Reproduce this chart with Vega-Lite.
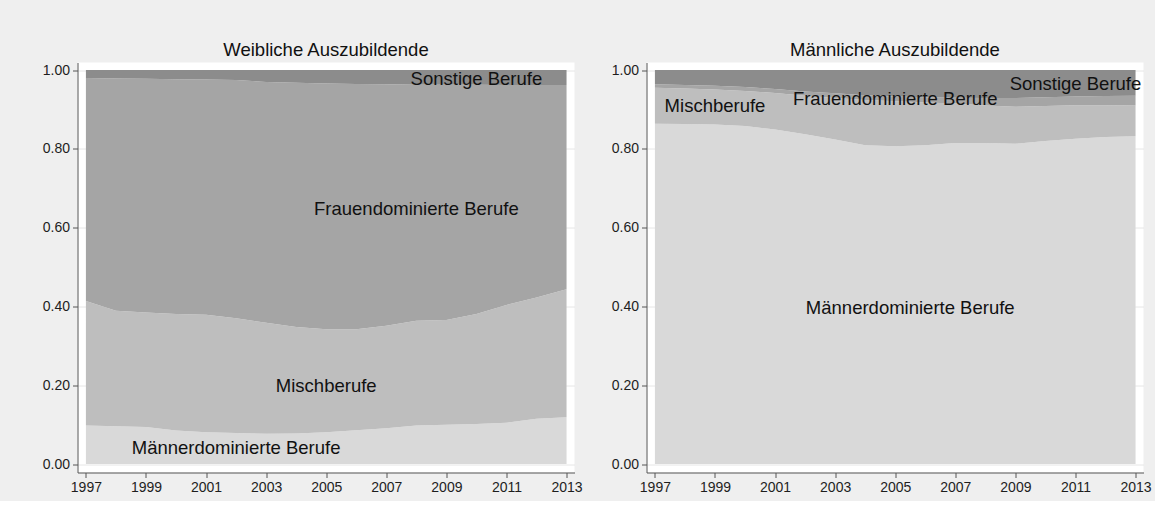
{
  "$schema": "https://vega.github.io/schema/vega-lite/v6.json",
  "background": "#efefef",
  "padding": {"left": 41.5, "top": 40.5, "right": 3, "bottom": 6},
  "spacing": 28,
  "config": {
    "view": {"fill": "white", "stroke": null},
    "font": "Liberation Sans",
    "axis": {
      "domainColor": "#555555",
      "tickColor": "#555555",
      "labelColor": "#1e1e1e",
      "labelFontSize": 14,
      "labelFont": "Liberation Sans",
      "tickSize": 5,
      "labelPadding": 3,
      "gridColor": "#e6e6e6",
      "labelFlush": false
    },
    "title": {"fontSize": 18.5, "fontWeight": "normal", "font": "Liberation Sans", "color": "#111111", "offset": 3, "baseline": "alphabetic", "anchor": "middle", "frame": "group"}
  },
  "datasets": {
    "shares": [
      {"panel": "W", "year": 1997, "cat": "Männerdominierte Berufe", "o": 1, "share": 0.098},
      {"panel": "W", "year": 1998, "cat": "Männerdominierte Berufe", "o": 1, "share": 0.096},
      {"panel": "W", "year": 1999, "cat": "Männerdominierte Berufe", "o": 1, "share": 0.094},
      {"panel": "W", "year": 2000, "cat": "Männerdominierte Berufe", "o": 1, "share": 0.085},
      {"panel": "W", "year": 2001, "cat": "Männerdominierte Berufe", "o": 1, "share": 0.081},
      {"panel": "W", "year": 2002, "cat": "Männerdominierte Berufe", "o": 1, "share": 0.079},
      {"panel": "W", "year": 2003, "cat": "Männerdominierte Berufe", "o": 1, "share": 0.077},
      {"panel": "W", "year": 2004, "cat": "Männerdominierte Berufe", "o": 1, "share": 0.078},
      {"panel": "W", "year": 2005, "cat": "Männerdominierte Berufe", "o": 1, "share": 0.081},
      {"panel": "W", "year": 2006, "cat": "Männerdominierte Berufe", "o": 1, "share": 0.086},
      {"panel": "W", "year": 2007, "cat": "Männerdominierte Berufe", "o": 1, "share": 0.091},
      {"panel": "W", "year": 2008, "cat": "Männerdominierte Berufe", "o": 1, "share": 0.098},
      {"panel": "W", "year": 2009, "cat": "Männerdominierte Berufe", "o": 1, "share": 0.100},
      {"panel": "W", "year": 2010, "cat": "Männerdominierte Berufe", "o": 1, "share": 0.102},
      {"panel": "W", "year": 2011, "cat": "Männerdominierte Berufe", "o": 1, "share": 0.105},
      {"panel": "W", "year": 2012, "cat": "Männerdominierte Berufe", "o": 1, "share": 0.115},
      {"panel": "W", "year": 2013, "cat": "Männerdominierte Berufe", "o": 1, "share": 0.119},
      {"panel": "W", "year": 1997, "cat": "Mischberufe", "o": 2, "share": 0.316},
      {"panel": "W", "year": 1998, "cat": "Mischberufe", "o": 2, "share": 0.293},
      {"panel": "W", "year": 1999, "cat": "Mischberufe", "o": 2, "share": 0.291},
      {"panel": "W", "year": 2000, "cat": "Mischberufe", "o": 2, "share": 0.296},
      {"panel": "W", "year": 2001, "cat": "Mischberufe", "o": 2, "share": 0.298},
      {"panel": "W", "year": 2002, "cat": "Mischberufe", "o": 2, "share": 0.291},
      {"panel": "W", "year": 2003, "cat": "Mischberufe", "o": 2, "share": 0.282},
      {"panel": "W", "year": 2004, "cat": "Mischberufe", "o": 2, "share": 0.270},
      {"panel": "W", "year": 2005, "cat": "Mischberufe", "o": 2, "share": 0.261},
      {"panel": "W", "year": 2006, "cat": "Mischberufe", "o": 2, "share": 0.256},
      {"panel": "W", "year": 2007, "cat": "Mischberufe", "o": 2, "share": 0.260},
      {"panel": "W", "year": 2008, "cat": "Mischberufe", "o": 2, "share": 0.266},
      {"panel": "W", "year": 2009, "cat": "Mischberufe", "o": 2, "share": 0.266},
      {"panel": "W", "year": 2010, "cat": "Mischberufe", "o": 2, "share": 0.279},
      {"panel": "W", "year": 2011, "cat": "Mischberufe", "o": 2, "share": 0.299},
      {"panel": "W", "year": 2012, "cat": "Mischberufe", "o": 2, "share": 0.308},
      {"panel": "W", "year": 2013, "cat": "Mischberufe", "o": 2, "share": 0.325},
      {"panel": "W", "year": 1997, "cat": "Frauendominierte Berufe", "o": 3, "share": 0.566},
      {"panel": "W", "year": 1998, "cat": "Frauendominierte Berufe", "o": 3, "share": 0.590},
      {"panel": "W", "year": 1999, "cat": "Frauendominierte Berufe", "o": 3, "share": 0.593},
      {"panel": "W", "year": 2000, "cat": "Frauendominierte Berufe", "o": 3, "share": 0.596},
      {"panel": "W", "year": 2001, "cat": "Frauendominierte Berufe", "o": 3, "share": 0.597},
      {"panel": "W", "year": 2002, "cat": "Frauendominierte Berufe", "o": 3, "share": 0.605},
      {"panel": "W", "year": 2003, "cat": "Frauendominierte Berufe", "o": 3, "share": 0.611},
      {"panel": "W", "year": 2004, "cat": "Frauendominierte Berufe", "o": 3, "share": 0.620},
      {"panel": "W", "year": 2005, "cat": "Frauendominierte Berufe", "o": 3, "share": 0.624},
      {"panel": "W", "year": 2006, "cat": "Frauendominierte Berufe", "o": 3, "share": 0.623},
      {"panel": "W", "year": 2007, "cat": "Frauendominierte Berufe", "o": 3, "share": 0.613},
      {"panel": "W", "year": 2008, "cat": "Frauendominierte Berufe", "o": 3, "share": 0.599},
      {"panel": "W", "year": 2009, "cat": "Frauendominierte Berufe", "o": 3, "share": 0.597},
      {"panel": "W", "year": 2010, "cat": "Frauendominierte Berufe", "o": 3, "share": 0.582},
      {"panel": "W", "year": 2011, "cat": "Frauendominierte Berufe", "o": 3, "share": 0.558},
      {"panel": "W", "year": 2012, "cat": "Frauendominierte Berufe", "o": 3, "share": 0.539},
      {"panel": "W", "year": 2013, "cat": "Frauendominierte Berufe", "o": 3, "share": 0.518},
      {"panel": "W", "year": 1997, "cat": "Sonstige Berufe", "o": 4, "share": 0.020},
      {"panel": "W", "year": 1998, "cat": "Sonstige Berufe", "o": 4, "share": 0.021},
      {"panel": "W", "year": 1999, "cat": "Sonstige Berufe", "o": 4, "share": 0.022},
      {"panel": "W", "year": 2000, "cat": "Sonstige Berufe", "o": 4, "share": 0.023},
      {"panel": "W", "year": 2001, "cat": "Sonstige Berufe", "o": 4, "share": 0.024},
      {"panel": "W", "year": 2002, "cat": "Sonstige Berufe", "o": 4, "share": 0.025},
      {"panel": "W", "year": 2003, "cat": "Sonstige Berufe", "o": 4, "share": 0.030},
      {"panel": "W", "year": 2004, "cat": "Sonstige Berufe", "o": 4, "share": 0.032},
      {"panel": "W", "year": 2005, "cat": "Sonstige Berufe", "o": 4, "share": 0.034},
      {"panel": "W", "year": 2006, "cat": "Sonstige Berufe", "o": 4, "share": 0.035},
      {"panel": "W", "year": 2007, "cat": "Sonstige Berufe", "o": 4, "share": 0.036},
      {"panel": "W", "year": 2008, "cat": "Sonstige Berufe", "o": 4, "share": 0.037},
      {"panel": "W", "year": 2009, "cat": "Sonstige Berufe", "o": 4, "share": 0.037},
      {"panel": "W", "year": 2010, "cat": "Sonstige Berufe", "o": 4, "share": 0.037},
      {"panel": "W", "year": 2011, "cat": "Sonstige Berufe", "o": 4, "share": 0.038},
      {"panel": "W", "year": 2012, "cat": "Sonstige Berufe", "o": 4, "share": 0.038},
      {"panel": "W", "year": 2013, "cat": "Sonstige Berufe", "o": 4, "share": 0.038},
      {"panel": "M", "year": 1997, "cat": "Männerdominierte Berufe", "o": 1, "share": 0.864},
      {"panel": "M", "year": 1998, "cat": "Männerdominierte Berufe", "o": 1, "share": 0.863},
      {"panel": "M", "year": 1999, "cat": "Männerdominierte Berufe", "o": 1, "share": 0.862},
      {"panel": "M", "year": 2000, "cat": "Männerdominierte Berufe", "o": 1, "share": 0.858},
      {"panel": "M", "year": 2001, "cat": "Männerdominierte Berufe", "o": 1, "share": 0.849},
      {"panel": "M", "year": 2002, "cat": "Männerdominierte Berufe", "o": 1, "share": 0.837},
      {"panel": "M", "year": 2003, "cat": "Männerdominierte Berufe", "o": 1, "share": 0.824},
      {"panel": "M", "year": 2004, "cat": "Männerdominierte Berufe", "o": 1, "share": 0.809},
      {"panel": "M", "year": 2005, "cat": "Männerdominierte Berufe", "o": 1, "share": 0.807},
      {"panel": "M", "year": 2006, "cat": "Männerdominierte Berufe", "o": 1, "share": 0.809},
      {"panel": "M", "year": 2007, "cat": "Männerdominierte Berufe", "o": 1, "share": 0.815},
      {"panel": "M", "year": 2008, "cat": "Männerdominierte Berufe", "o": 1, "share": 0.815},
      {"panel": "M", "year": 2009, "cat": "Männerdominierte Berufe", "o": 1, "share": 0.813},
      {"panel": "M", "year": 2010, "cat": "Männerdominierte Berufe", "o": 1, "share": 0.820},
      {"panel": "M", "year": 2011, "cat": "Männerdominierte Berufe", "o": 1, "share": 0.826},
      {"panel": "M", "year": 2012, "cat": "Männerdominierte Berufe", "o": 1, "share": 0.830},
      {"panel": "M", "year": 2013, "cat": "Männerdominierte Berufe", "o": 1, "share": 0.832},
      {"panel": "M", "year": 1997, "cat": "Mischberufe", "o": 2, "share": 0.091},
      {"panel": "M", "year": 1998, "cat": "Mischberufe", "o": 2, "share": 0.090},
      {"panel": "M", "year": 1999, "cat": "Mischberufe", "o": 2, "share": 0.089},
      {"panel": "M", "year": 2000, "cat": "Mischberufe", "o": 2, "share": 0.089},
      {"panel": "M", "year": 2001, "cat": "Mischberufe", "o": 2, "share": 0.093},
      {"panel": "M", "year": 2002, "cat": "Mischberufe", "o": 2, "share": 0.098},
      {"panel": "M", "year": 2003, "cat": "Mischberufe", "o": 2, "share": 0.105},
      {"panel": "M", "year": 2004, "cat": "Mischberufe", "o": 2, "share": 0.115},
      {"panel": "M", "year": 2005, "cat": "Mischberufe", "o": 2, "share": 0.114},
      {"panel": "M", "year": 2006, "cat": "Mischberufe", "o": 2, "share": 0.109},
      {"panel": "M", "year": 2007, "cat": "Mischberufe", "o": 2, "share": 0.100},
      {"panel": "M", "year": 2008, "cat": "Mischberufe", "o": 2, "share": 0.095},
      {"panel": "M", "year": 2009, "cat": "Mischberufe", "o": 2, "share": 0.094},
      {"panel": "M", "year": 2010, "cat": "Mischberufe", "o": 2, "share": 0.089},
      {"panel": "M", "year": 2011, "cat": "Mischberufe", "o": 2, "share": 0.085},
      {"panel": "M", "year": 2012, "cat": "Mischberufe", "o": 2, "share": 0.081},
      {"panel": "M", "year": 2013, "cat": "Mischberufe", "o": 2, "share": 0.078},
      {"panel": "M", "year": 1997, "cat": "Frauendominierte Berufe", "o": 3, "share": 0.009},
      {"panel": "M", "year": 1998, "cat": "Frauendominierte Berufe", "o": 3, "share": 0.009},
      {"panel": "M", "year": 1999, "cat": "Frauendominierte Berufe", "o": 3, "share": 0.009},
      {"panel": "M", "year": 2000, "cat": "Frauendominierte Berufe", "o": 3, "share": 0.010},
      {"panel": "M", "year": 2001, "cat": "Frauendominierte Berufe", "o": 3, "share": 0.010},
      {"panel": "M", "year": 2002, "cat": "Frauendominierte Berufe", "o": 3, "share": 0.011},
      {"panel": "M", "year": 2003, "cat": "Frauendominierte Berufe", "o": 3, "share": 0.012},
      {"panel": "M", "year": 2004, "cat": "Frauendominierte Berufe", "o": 3, "share": 0.012},
      {"panel": "M", "year": 2005, "cat": "Frauendominierte Berufe", "o": 3, "share": 0.012},
      {"panel": "M", "year": 2006, "cat": "Frauendominierte Berufe", "o": 3, "share": 0.013},
      {"panel": "M", "year": 2007, "cat": "Frauendominierte Berufe", "o": 3, "share": 0.015},
      {"panel": "M", "year": 2008, "cat": "Frauendominierte Berufe", "o": 3, "share": 0.019},
      {"panel": "M", "year": 2009, "cat": "Frauendominierte Berufe", "o": 3, "share": 0.022},
      {"panel": "M", "year": 2010, "cat": "Frauendominierte Berufe", "o": 3, "share": 0.022},
      {"panel": "M", "year": 2011, "cat": "Frauendominierte Berufe", "o": 3, "share": 0.022},
      {"panel": "M", "year": 2012, "cat": "Frauendominierte Berufe", "o": 3, "share": 0.023},
      {"panel": "M", "year": 2013, "cat": "Frauendominierte Berufe", "o": 3, "share": 0.025},
      {"panel": "M", "year": 1997, "cat": "Sonstige Berufe", "o": 4, "share": 0.036},
      {"panel": "M", "year": 1998, "cat": "Sonstige Berufe", "o": 4, "share": 0.038},
      {"panel": "M", "year": 1999, "cat": "Sonstige Berufe", "o": 4, "share": 0.040},
      {"panel": "M", "year": 2000, "cat": "Sonstige Berufe", "o": 4, "share": 0.043},
      {"panel": "M", "year": 2001, "cat": "Sonstige Berufe", "o": 4, "share": 0.048},
      {"panel": "M", "year": 2002, "cat": "Sonstige Berufe", "o": 4, "share": 0.054},
      {"panel": "M", "year": 2003, "cat": "Sonstige Berufe", "o": 4, "share": 0.059},
      {"panel": "M", "year": 2004, "cat": "Sonstige Berufe", "o": 4, "share": 0.064},
      {"panel": "M", "year": 2005, "cat": "Sonstige Berufe", "o": 4, "share": 0.067},
      {"panel": "M", "year": 2006, "cat": "Sonstige Berufe", "o": 4, "share": 0.069},
      {"panel": "M", "year": 2007, "cat": "Sonstige Berufe", "o": 4, "share": 0.070},
      {"panel": "M", "year": 2008, "cat": "Sonstige Berufe", "o": 4, "share": 0.071},
      {"panel": "M", "year": 2009, "cat": "Sonstige Berufe", "o": 4, "share": 0.071},
      {"panel": "M", "year": 2010, "cat": "Sonstige Berufe", "o": 4, "share": 0.069},
      {"panel": "M", "year": 2011, "cat": "Sonstige Berufe", "o": 4, "share": 0.067},
      {"panel": "M", "year": 2012, "cat": "Sonstige Berufe", "o": 4, "share": 0.066},
      {"panel": "M", "year": 2013, "cat": "Sonstige Berufe", "o": 4, "share": 0.065}
    ],
    "labels": [
      {"panel": "W", "label": "Sonstige Berufe", "lx": 2010.0, "ly": 0.977},
      {"panel": "W", "label": "Frauendominierte Berufe", "lx": 2008.0, "ly": 0.6485},
      {"panel": "W", "label": "Mischberufe", "lx": 2005.0, "ly": 0.197},
      {"panel": "W", "label": "Männerdominierte Berufe", "lx": 2002.0, "ly": 0.041},
      {"panel": "M", "label": "Mischberufe", "lx": 1999.0, "ly": 0.9086},
      {"panel": "M", "label": "Frauendominierte Berufe", "lx": 2005.0, "ly": 0.926},
      {"panel": "M", "label": "Sonstige Berufe", "lx": 2011.0, "ly": 0.9645},
      {"panel": "M", "label": "Männerdominierte Berufe", "lx": 2005.5, "ly": 0.397}
    ]
  },
  "hconcat": [
    {
      "width": 497,
      "height": 410,
      "title": {"text": "Weibliche Auszubildende"},
      "layer": [
        {
          "data": {"name": "shares"},
          "transform": [{"filter": "datum.panel == 'W'"}],
          "mark": {"type": "area", "interpolate": "linear"},
          "encoding": {
            "x": {"field": "year", "type": "quantitative", "title": null,
                  "scale": {"domain": [1996.72, 2013.265], "nice": false, "zero": false},
                  "axis": {"values": [1997, 1999, 2001, 2003, 2005, 2007, 2009, 2011, 2013], "format": "d", "grid": false}},
            "y": {"field": "share", "type": "quantitative", "title": null, "stack": "zero",
                  "scale": {"domain": [-0.0213, 1.0193], "nice": false, "zero": false},
                  "axis": {"values": [0, 0.2, 0.4, 0.6, 0.8, 1], "format": ".2f", "grid": true}},
            "color": {"field": "cat", "type": "nominal", "legend": null,
                      "scale": {"domain": ["Männerdominierte Berufe", "Mischberufe", "Frauendominierte Berufe", "Sonstige Berufe"],
                                "range": ["#d9d9d9", "#bebebe", "#a5a5a5", "#8c8c8c"]}},
            "order": {"field": "o", "type": "quantitative"}
          }
        },
        {
          "data": {"name": "labels"},
          "transform": [{"filter": "datum.panel == 'W'"}],
          "mark": {"type": "text", "fontSize": 18.5, "font": "Liberation Sans", "color": "#111111", "align": "center", "baseline": "middle"},
          "encoding": {
            "x": {"field": "lx", "type": "quantitative", "title": null},
            "y": {"field": "ly", "type": "quantitative", "title": null},
            "text": {"field": "label", "type": "nominal"}
          }
        }
      ]
    },
    {
      "width": 497,
      "height": 410,
      "title": {"text": "Männliche Auszubildende"},
      "layer": [
        {
          "data": {"name": "shares"},
          "transform": [{"filter": "datum.panel == 'M'"}],
          "mark": {"type": "area", "interpolate": "linear"},
          "encoding": {
            "x": {"field": "year", "type": "quantitative", "title": null,
                  "scale": {"domain": [1996.72, 2013.265], "nice": false, "zero": false},
                  "axis": {"values": [1997, 1999, 2001, 2003, 2005, 2007, 2009, 2011, 2013], "format": "d", "grid": false}},
            "y": {"field": "share", "type": "quantitative", "title": null, "stack": "zero",
                  "scale": {"domain": [-0.0213, 1.0193], "nice": false, "zero": false},
                  "axis": {"values": [0, 0.2, 0.4, 0.6, 0.8, 1], "format": ".2f", "grid": true}},
            "color": {"field": "cat", "type": "nominal", "legend": null,
                      "scale": {"domain": ["Männerdominierte Berufe", "Mischberufe", "Frauendominierte Berufe", "Sonstige Berufe"],
                                "range": ["#d9d9d9", "#bebebe", "#a5a5a5", "#8c8c8c"]}},
            "order": {"field": "o", "type": "quantitative"}
          }
        },
        {
          "data": {"name": "labels"},
          "transform": [{"filter": "datum.panel == 'M'"}],
          "mark": {"type": "text", "fontSize": 18.5, "font": "Liberation Sans", "color": "#111111", "align": "center", "baseline": "middle"},
          "encoding": {
            "x": {"field": "lx", "type": "quantitative", "title": null},
            "y": {"field": "ly", "type": "quantitative", "title": null},
            "text": {"field": "label", "type": "nominal"}
          }
        }
      ]
    }
  ]
}
